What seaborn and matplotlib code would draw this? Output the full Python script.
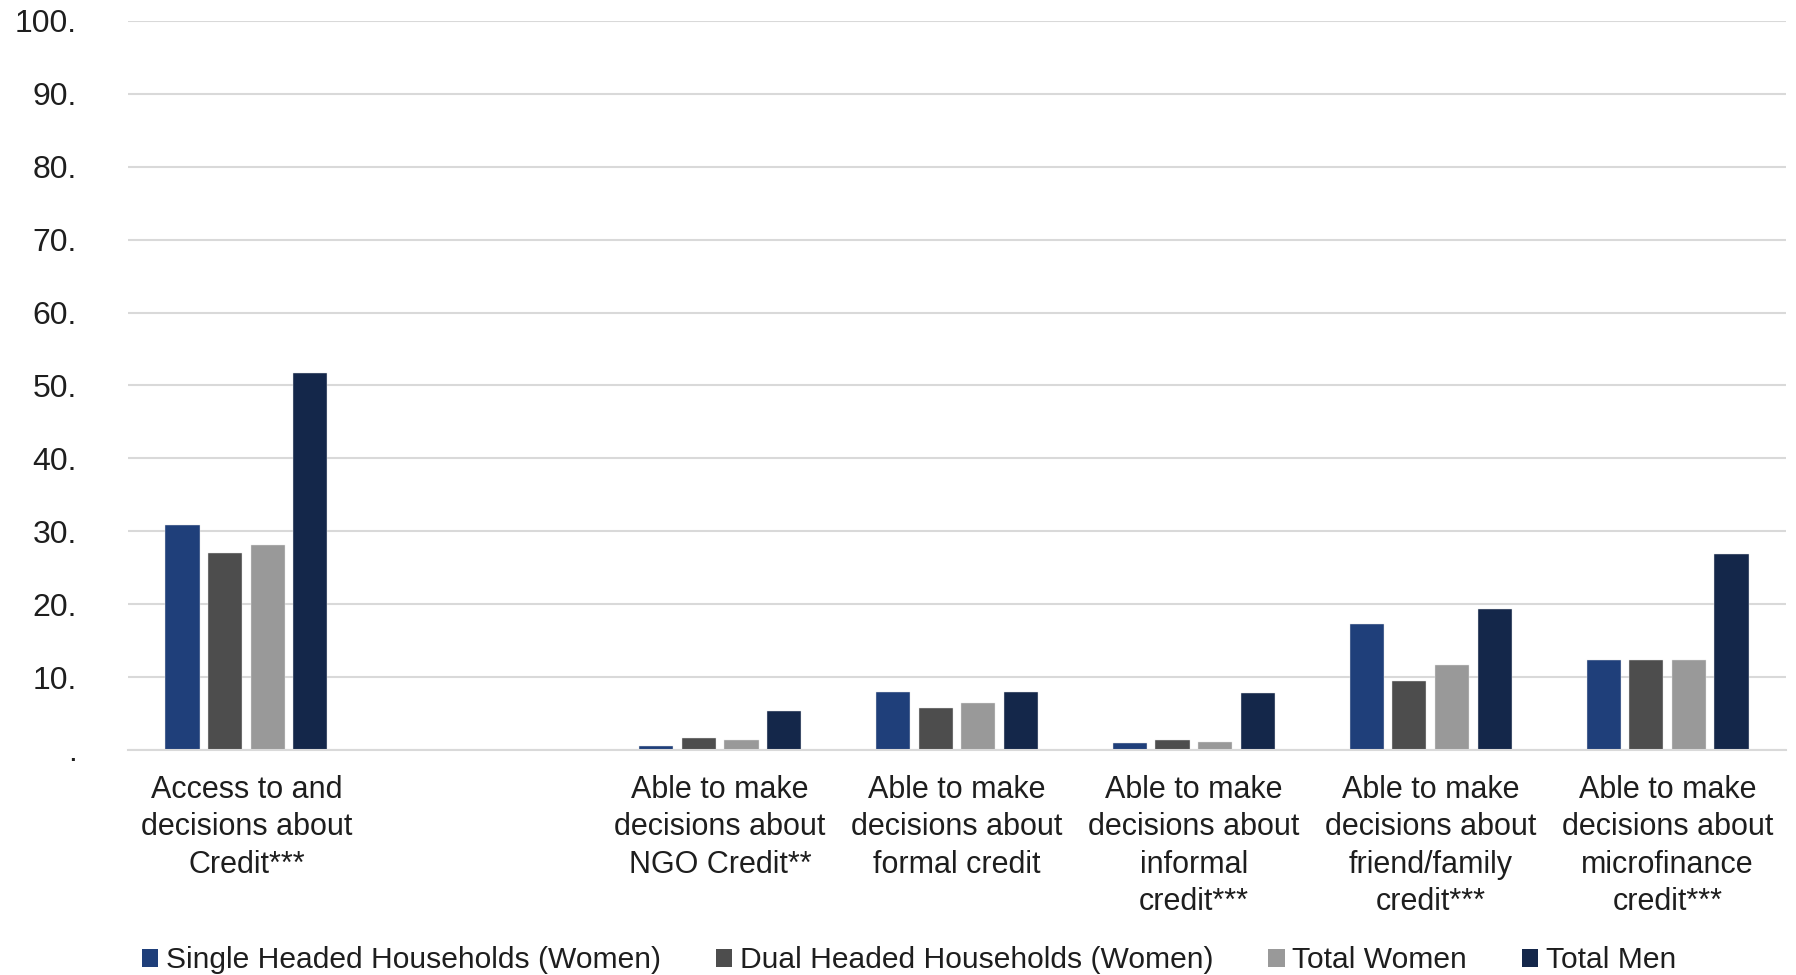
import numpy as np
import pandas as pd
import matplotlib
matplotlib.use("Agg")
import matplotlib.pyplot as plt
import seaborn as sns
from matplotlib.patches import Patch

categories = [
    "Access to and\ndecisions about\nCredit***",
    " ",
    "Able to make\ndecisions about\nNGO Credit**",
    "Able to make\ndecisions about\nformal credit",
    "Able to make\ndecisions about\ninformal\ncredit***",
    "Able to make\ndecisions about\nfriend/family\ncredit***",
    "Able to make\ndecisions about\nmicrofinance\ncredit***",
]
series = [
    "Single Headed Households (Women)",
    "Dual Headed Households (Women)",
    "Total Women",
    "Total Men",
]
single_headed = [30.9, np.nan, 0.6, 8.0, 0.9, 17.3, 12.3]
dual_headed = [27.0, np.nan, 1.7, 5.8, 1.4, 9.5, 12.3]
total_women = [28.1, np.nan, 1.4, 6.4, 1.1, 11.7, 12.3]
total_men = [51.7, np.nan, 5.3, 7.9, 7.8, 19.4, 26.9]
y_ticks = [0, 10, 20, 30, 40, 50, 60, 70, 80, 90, 100]
y_tick_labels = [".", "10.", "20.", "30.", "40.", "50.", "60.", "70.", "80.", "90.", "100."]

colors = ["#1f3f7a", "#4d4d4d", "#999999", "#14274a"]

rows = []
for name, vals in zip(series, [single_headed, dual_headed, total_women, total_men]):
    for cat, v in zip(categories, vals):
        rows.append({"category": cat, "series": name, "value": v})
df = pd.DataFrame(rows)

sns.set_theme(style="white")
plt.rcParams["font.family"] = ["Liberation Sans", "DejaVu Sans"]
text_color = "#1e1e1e"

fig = plt.figure(figsize=(17.96, 9.75), dpi=100)
ax = fig.add_axes([0.0713, 0.2308, 0.9231, 0.7477])

sns.barplot(
    data=df, x="category", y="value", hue="series",
    order=categories, hue_order=series, palette=colors, saturation=1,
    width=0.72, gap=0.2, errorbar=None, ax=ax,
    edgecolor="#e6e6e6", linewidth=0.3, legend=False,
)

ax.set_xlim(-0.5, len(categories) - 0.5)
ax.set_ylim(0, 100)
ax.set_yticks(y_ticks)
ax.set_yticklabels(y_tick_labels)
ax.set_xlabel("")
ax.set_ylabel("")
ax.yaxis.grid(True, color="#d9d9d9", linewidth=1.5)
ax.set_axisbelow(True)
for s in ["top", "right", "left"]:
    ax.spines[s].set_visible(False)
ax.spines["bottom"].set_color("#d9d9d9")
ax.spines["bottom"].set_linewidth(1.5)

ax.tick_params(axis="y", length=0, pad=37, labelsize=23, labelcolor=text_color)
ax.tick_params(axis="x", length=0, pad=18, labelsize=22, labelcolor=text_color)
for lab in ax.get_xticklabels():
    lab.set_linespacing(1.32)
for lab in ax.get_yticklabels():
    lab.set_horizontalalignment("right")

handles = [Patch(facecolor=c, edgecolor="none") for c in colors]
fig.legend(
    handles, series, loc="lower left", bbox_to_anchor=(0.064, -0.027),
    ncol=4, frameon=False, fontsize=21.6, handlelength=0.55, handleheight=0.55,
    handletextpad=0.25, columnspacing=1.83, labelcolor=text_color,
)

fig.savefig("out.png", dpi=100, facecolor="white")
